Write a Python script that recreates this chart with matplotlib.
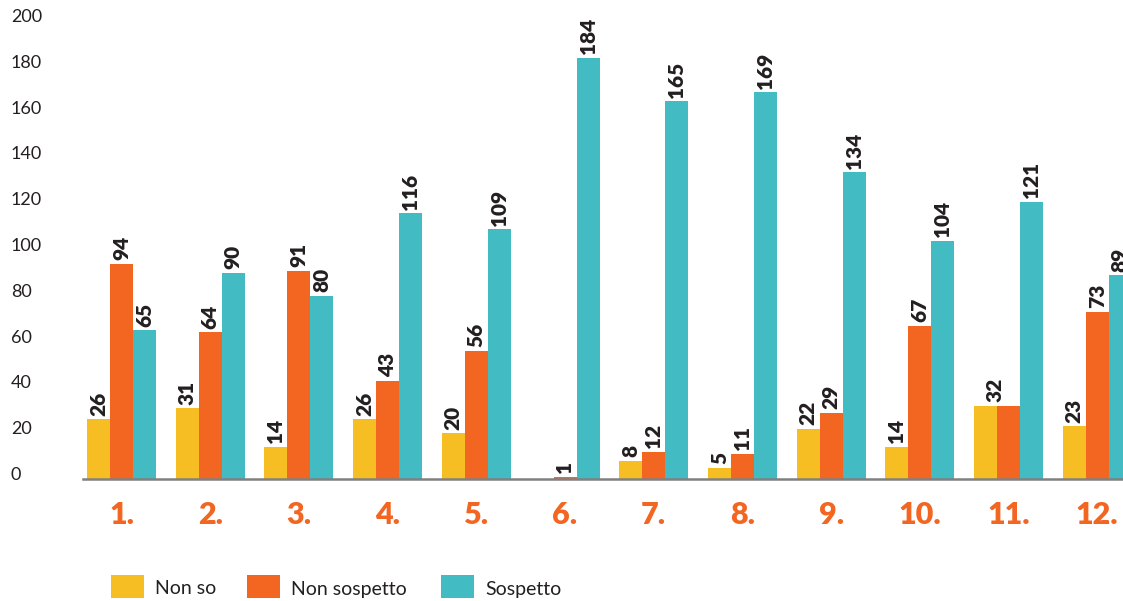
import matplotlib
matplotlib.use("Agg")
import matplotlib.pyplot as plt
from matplotlib.patches import Rectangle
import matplotlib.transforms as mtrans
import numpy as np

plt.rcParams['font.family'] = ['Lato', 'DejaVu Sans']

# Dati
categorie = ["1.", "2.", "3.", "4.", "5.", "6.", "7.", "8.", "9.", "10.", "11.", "12."]
serie = ["Non so", "Non sospetto", "Sospetto"]
non_so = [26, 31, 14, 26, 20, 0, 8, 5, 22, 14, 32, 23]
non_sospetto = [94, 64, 91, 43, 56, 1, 12, 11, 29, 67, 32, 73]
sospetto = [65, 90, 80, 116, 109, 184, 165, 169, 134, 104, 121, 89]
y_ticks = [0, 20, 40, 60, 80, 100, 120, 140, 160, 180, 200]
# gruppo 11: una sola etichetta "32" tra le due barre uguali
etichette_nascoste = [(1, 10)]
spostamenti = {(0, 10): 7}

colori = ["#F6BE22", "#F26622", "#42BBC3"]
W, H = 1123, 601

fig = plt.figure(figsize=(W / 100, H / 100), dpi=100)
ax = fig.add_axes([83 / W, (H - 479) / H, 1 - 83 / W, 479 / H])

x = np.arange(len(categorie))
w = 23 / 88.7
valori = [non_so, non_sospetto, sospetto]

for s, (vals, col) in enumerate(zip(valori, colori)):
    pos = x + (s - 1) * w
    ax.bar(pos, vals, width=w, color=col, linewidth=0)
    for g, (px, v) in enumerate(zip(pos, vals)):
        if v == 0 or (s, g) in etichette_nascoste:
            continue
        ax.annotate(str(v), (px, v), xytext=(spostamenti.get((s, g), 0), 2.5),
                    textcoords="offset points", rotation=90, ha="center",
                    va="bottom", fontsize=15, fontweight="heavy",
                    color="#231F20", annotation_clip=False)

ax.set_xlim((83 - 121.5) / 88.7, (W - 121.5) / 88.7)
ax.set_ylim(0, 479 / 2.29)

for sp in ["top", "right", "left"]:
    ax.spines[sp].set_visible(False)
ax.spines["bottom"].set_color("#808080")
ax.spines["bottom"].set_linewidth(1.8)

ax.set_yticks(y_ticks)
ax.set_yticklabels([str(t) for t in y_ticks], fontsize=13, color="#231F20")
ax.tick_params(axis="y", length=0, pad=52)
su = mtrans.ScaledTranslation(0, 4 / 100, fig.dpi_scale_trans)
for lab in ax.get_yticklabels():
    lab.set_horizontalalignment("left")
    lab.set_verticalalignment("center")
    lab.set_transform(lab.get_transform() + su)

ax.set_xticks(x)
ax.set_xticklabels(categorie, fontsize=22, fontweight="heavy", color="#F26622")
ax.tick_params(axis="x", length=0, pad=16)

# Legenda
leg_x = [111, 247, 441]
for (lx, nome, col) in zip(leg_x, serie, colori):
    fig.add_artist(Rectangle((lx / W, (H - 598) / H), 33 / W, 23 / H,
                             transform=fig.transFigure, color=col, lw=0))
    fig.text((lx + 44) / W, (H - 589) / H, nome, fontsize=14, color="#231F20",
             ha="left", va="center")

fig.savefig("out.png", dpi=100)
